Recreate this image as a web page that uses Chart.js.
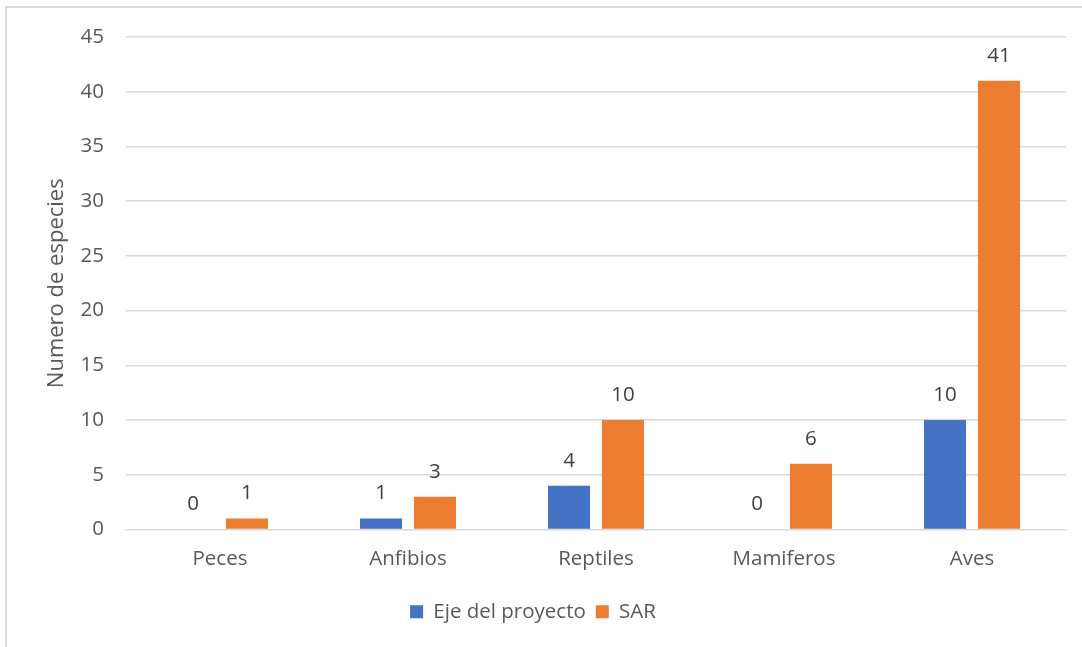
<!DOCTYPE html>
<html>
<head>
<meta charset="utf-8">
<script src="https://cdn.jsdelivr.net/npm/chart.js@4"></script>
<style>
    html, body { margin: 0; padding: 0; background: #fff; overflow: hidden; }
    #wrap { position: relative; width: 1082px; height: 647px; }
    #frame { position: absolute; left: 5px; top: 6px; width: 1200px; height: 800px; border: 2px solid #d9d9d9; box-sizing: border-box; }
    #chart { position: absolute; left: 0; top: 0; }
</style>
</head>
<body>
<div id="wrap">
    <div id="frame"></div>
    <canvas id="chart" width="1082" height="647"></canvas>
</div>
<script>
// datos del grafico
const categorias = ['Peces', 'Anfibios', 'Reptiles', 'Mamiferos', 'Aves'];
const ejeProyecto = [0, 1, 4, 0, 10];
const sar = [1, 3, 10, 6, 41];
const serieNombres = ['Eje del proyecto', 'SAR'];
const yTicks = [0, 5, 10, 15, 20, 25, 30, 35, 40, 45];

const AZUL = '#4472C4';
const NARANJA = '#ED7D31';
const TEXTO = '#595959';
const FUENTE = "'Open Sans', 'Liberation Sans', sans-serif";
const TAM = 20.5;

// etiquetas de valor encima de cada barra
const etiquetas = {
    id: 'etiquetas',
    afterDatasetsDraw(chart) {
        const ctx = chart.ctx;
        ctx.save();
        ctx.font = `${TAM}px ${FUENTE}`;
        ctx.fillStyle = '#404040';
        ctx.textAlign = 'center';
        ctx.textBaseline = 'middle';
        chart.data.datasets.forEach((ds, i) => {
            chart.getDatasetMeta(i).data.forEach((bar, j) => {
                ctx.fillText(String(ds.data[j]), bar.x, bar.y - 25);
            });
        });
        ctx.restore();
    },
};

new Chart(document.getElementById('chart'), {
    type: 'bar',
    data: {
        labels: categorias,
        datasets: [
            { label: serieNombres[0], data: ejeProyecto, backgroundColor: AZUL, categoryPercentage: 0.574, barPercentage: 0.78 },
            { label: serieNombres[1], data: sar, backgroundColor: NARANJA, categoryPercentage: 0.574, barPercentage: 0.78 },
        ],
    },
    options: {
        responsive: false,
        animation: false,
        layout: { padding: { top: 37, right: 16, bottom: 15, left: 0 } },
        plugins: {
            legend: {
                position: 'bottom',
                labels: { boxWidth: 13, boxHeight: 13, padding: 10, color: TEXTO, font: { family: FUENTE, size: TAM } },
            },
            tooltip: { enabled: false },
        },
        scales: {
            x: {
                grid: { display: false, drawTicks: false },
                border: { display: false },
                ticks: { color: TEXTO, padding: 17, font: { family: FUENTE, size: TAM } },
                afterFit: (s) => { s.height = 62; },
            },
            y: {
                min: 0,
                max: 45,
                afterBuildTicks: (s) => { s.ticks = yTicks.map(v => ({ value: v })); },
                grid: { color: '#d9d9d9', lineWidth: 1.5, drawTicks: false },
                border: { display: false },
                ticks: { color: TEXTO, padding: 22, font: { family: FUENTE, size: TAM } },
                title: { display: true, text: 'Numero de especies', color: TEXTO, padding: { top: 44, bottom: 0 }, font: { family: FUENTE, size: 22 } },
                afterFit: (s) => { s.width = 126; },
            },
        },
    },
    plugins: [etiquetas],
});
</script>
</body>
</html>
